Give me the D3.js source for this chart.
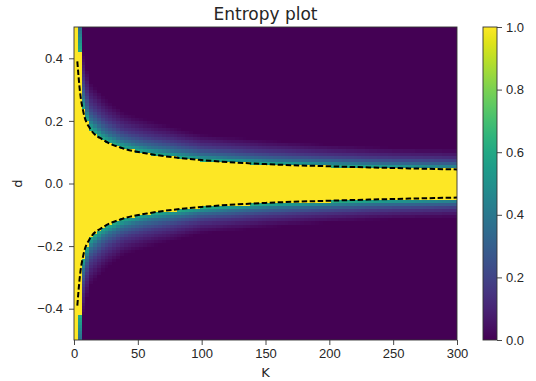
<!DOCTYPE html>
<html>
<head>
<meta charset="utf-8">
<script src="https://cdn.jsdelivr.net/npm/d3@7"></script>
<style>
  body { margin: 0; background: #fff; }
  svg { font-family: "DejaVu Sans", sans-serif; }
  .axis text { font-size: 13px; fill: #262626; }
  .axis line, .axis path { stroke: #333; stroke-width: 0.9; }
</style>
</head>
<body>
<svg id="chart" width="536" height="381"></svg>
<script>
// dashed boundary curve (upper branch, lower is mirrored)
const dashK = [2.6, 4.7, 7.3, 12.5, 23, 38.6, 57, 100, 150, 200, 250, 300];
const dashD = [0.39, 0.293, 0.229, 0.176, 0.139, 0.112, 0.096, 0.075, 0.062, 0.055, 0.0495, 0.045];

// heatmap: where entropy stays at 1 (yellow) and where the fringe fades out
const edgeK   = [1.5, 4.5, 7.5, 12.5, 23, 38.6, 57, 100, 150, 200, 250, 300];
const yellowD = [0.6, 0.42, 0.24, 0.176, 0.139, 0.112, 0.096, 0.075, 0.062, 0.055, 0.0495, 0.045];
const fringeD = [0.9, 0.8, 0.42, 0.33, 0.28, 0.23, 0.205, 0.16, 0.14, 0.125, 0.115, 0.11];

// entropy across the fringe (0 = yellow edge, 1 = outer end)
const fringeT = [0, 0.1, 0.2, 0.35, 0.5, 0.65, 0.8, 1];
const fringeV = [0.62, 0.5, 0.36, 0.25, 0.16, 0.1, 0.05, 0];

const xTicks = [0, 50, 100, 150, 200, 250, 300];
const yTicks = [-0.4, -0.2, 0.0, 0.2, 0.4];
const cTicks = [0, 0.2, 0.4, 0.6, 0.8, 1.0];

const cols = d3.range(0, 300, 3);      // K cell starts
const rows = d3.range(0, 100).map(i => -0.5 + i * 0.01); // d cell starts

const svg = d3.select("#chart");
const pL = 74, pR = 457, pT = 27, pB = 340;

const x = d3.scaleLinear().domain([0, 300]).range([pL, pR]);
const y = d3.scaleLinear().domain([-0.5, 0.5]).range([pB, pT]);
const color = d3.scaleSequential(d3.interpolateViridis).domain([0, 1]);

const edgeAt = d3.scaleLinear().domain(edgeK).range(yellowD).clamp(true);
const fringeAt = d3.scaleLinear().domain(edgeK).range(fringeD).clamp(true);
const profile = d3.scaleLinear().domain(fringeT).range(fringeV).clamp(true);

const cells = [];
cols.forEach(k => {
  const kc = k + 1.5;
  const e = edgeAt(kc), f = fringeAt(kc);
  rows.forEach(d => {
    const dc = Math.abs(d + 0.005);
    const v = dc <= e ? 1 : profile((dc - e) / (f - e));
    cells.push({ k, d, v });
  });
});

const cw = x(3) - x(0);
const ch = y(0) - y(0.01);

svg.append("g")
  .selectAll("rect")
  .data(cells)
  .join("rect")
  .attr("x", c => x(c.k))
  .attr("y", c => y(c.d + 0.01))
  .attr("width", cw + 0.4)
  .attr("height", ch + 0.4)
  .attr("fill", c => color(c.v))
  .attr("shape-rendering", "crispEdges");

// dashed curves
const line = d3.line()
  .x(p => x(p[0]))
  .y(p => y(p[1]))
  .curve(d3.curveMonotoneX);

[1, -1].forEach(s => {
  svg.append("path")
    .datum(dashK.map((k, i) => [k, s * dashD[i]]))
    .attr("d", line)
    .attr("fill", "none")
    .attr("stroke", "#000")
    .attr("stroke-width", 2)
    .attr("stroke-dasharray", "5.5,2.5");
});

// frame
svg.append("rect")
  .attr("x", pL).attr("y", pT)
  .attr("width", pR - pL).attr("height", pB - pT)
  .attr("fill", "none").attr("stroke", "#333").attr("stroke-width", 0.9);

const fmt = d3.format(".1f");
const minus = v => fmt(v).replace("-", "\u2212");

svg.append("g")
  .attr("class", "axis")
  .attr("transform", `translate(0,${pB})`)
  .call(d3.axisBottom(x).tickValues(xTicks).tickSize(5).tickPadding(4).tickSizeOuter(0))
  .call(g => g.select(".domain").remove());

svg.append("g")
  .attr("class", "axis")
  .attr("transform", `translate(${pL},0)`)
  .call(d3.axisLeft(y).tickValues(yTicks).tickFormat(minus).tickSize(5).tickPadding(6).tickSizeOuter(0))
  .call(g => g.select(".domain").remove());

// labels
svg.append("text")
  .attr("x", (pL + pR) / 2).attr("y", 20)
  .attr("text-anchor", "middle")
  .style("font-size", "17px").style("fill", "#262626")
  .text("Entropy plot");

svg.append("text")
  .attr("x", (pL + pR) / 2).attr("y", 377)
  .attr("text-anchor", "middle")
  .style("font-size", "13px").style("fill", "#262626")
  .text("K");

svg.append("text")
  .attr("transform", `translate(22,${(pT + pB) / 2}) rotate(-90)`)
  .attr("text-anchor", "middle")
  .style("font-size", "13px").style("fill", "#262626")
  .text("d");

// colorbar
const cbL = 483, cbW = 14;
const cy = d3.scaleLinear().domain([0, 1]).range([pB, pT]);

const grad = svg.append("defs").append("linearGradient")
  .attr("id", "viridis")
  .attr("x1", 0).attr("y1", 1).attr("x2", 0).attr("y2", 0);
grad.selectAll("stop")
  .data(d3.range(0, 1.0001, 0.05))
  .join("stop")
  .attr("offset", t => t)
  .attr("stop-color", t => color(t));

svg.append("rect")
  .attr("x", cbL).attr("y", pT)
  .attr("width", cbW).attr("height", pB - pT)
  .attr("fill", "url(#viridis)")
  .attr("stroke", "#333").attr("stroke-width", 0.9);

svg.append("g")
  .attr("class", "axis")
  .attr("transform", `translate(${cbL + cbW},0)`)
  .call(d3.axisRight(cy).tickValues(cTicks).tickFormat(fmt).tickSize(5).tickPadding(4).tickSizeOuter(0))
  .call(g => g.select(".domain").remove());
</script>
</body>
</html>
